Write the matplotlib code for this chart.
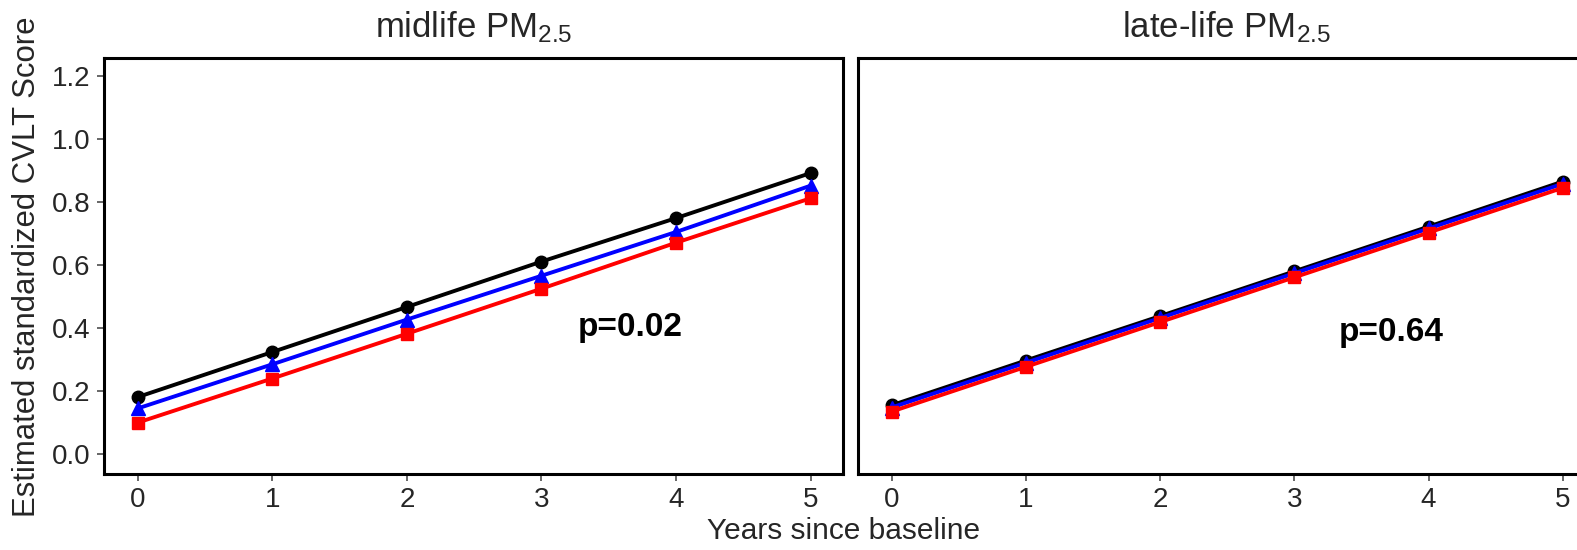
import matplotlib
matplotlib.use("Agg")
import matplotlib.pyplot as plt

plt.rcParams['font.family'] = ['Liberation Sans', 'DejaVu Sans']
plt.rcParams['mathtext.fontset'] = 'custom'
plt.rcParams['mathtext.rm'] = 'Liberation Sans'
plt.rcParams['mathtext.it'] = 'Liberation Sans:italic'

# years since baseline
years = [0, 1, 2, 3, 4, 5]

# midlife PM2.5 panel
mid_black = [0.181, 0.324, 0.467, 0.611, 0.749, 0.892]
mid_blue = [0.145, 0.285, 0.427, 0.566, 0.705, 0.852]
mid_red = [0.100, 0.240, 0.382, 0.525, 0.671, 0.812]

# late-life PM2.5 panel
late_black = [0.155, 0.297, 0.438, 0.580, 0.722, 0.865]
late_blue = [0.148, 0.290, 0.432, 0.574, 0.716, 0.858]
late_red = [0.135, 0.277, 0.419, 0.561, 0.703, 0.845]

titles = ['midlife PM$_{\\mathrm{2.5}}$', 'late-life PM$_{\\mathrm{2.5}}$']
pvals = ['p=0.02', 'p=0.64']
pval_pos = [(3.66, 0.403), (3.72, 0.387)]
yticks = [0.0, 0.2, 0.4, 0.6, 0.8, 1.0, 1.2]

text_col = '#262626'
tick_col = '#4d4d4d'

fig = plt.figure(figsize=(15.77, 5.5), dpi=100)
ax1 = fig.add_axes([104 / 1577, 1 - 474 / 550, (843 - 104) / 1577, (474 - 58) / 550])
ax2 = fig.add_axes([858 / 1577, 1 - 474 / 550, (1595 - 858) / 1577, (474 - 58) / 550])

panels = [(ax1, mid_black, mid_blue, mid_red), (ax2, late_black, late_blue, late_red)]
for i, (ax, blk, blu, red) in enumerate(panels):
    ax.plot(years, blk, color='black', lw=2.8, marker='o', ms=9, zorder=3)
    ax.plot(years, blu, color='blue', lw=2.8, marker='^', ms=10, zorder=4)
    ax.plot(years, red, color='red', lw=2.8, marker='s', ms=9, zorder=5)
    ax.set_xlim(-0.25, 5.24)
    ax.set_ylim(-0.063, 1.257)
    ax.set_xticks(years)
    ax.set_yticks(yticks)
    for sp in ax.spines.values():
        sp.set_linewidth(2.2)
        sp.set_color('black')
    ax.tick_params(axis='both', direction='out', length=5, width=1.2, color=tick_col,
                   labelsize=20, labelcolor=text_col, pad=4.5)
    ax.set_title(titles[i], fontsize=25, color=text_col, pad=15)
    ax.text(pval_pos[i][0], pval_pos[i][1], pvals[i], fontsize=24, fontweight='bold',
            ha='center', va='center', color='black')

ax1.set_yticklabels(['%.1f' % v for v in yticks])
ax2.tick_params(axis='y', left=False, labelleft=False)

fig.text(0.535, 1 - 531 / 550, 'Years since baseline', fontsize=21.5, color=text_col,
         ha='center', va='center')
fig.text(27 / 1577, 1 - 267 / 550, 'Estimated standardized CVLT Score', fontsize=22.4,
         color=text_col, rotation=90, ha='center', va='center')

fig.savefig('out.png', dpi=100)
